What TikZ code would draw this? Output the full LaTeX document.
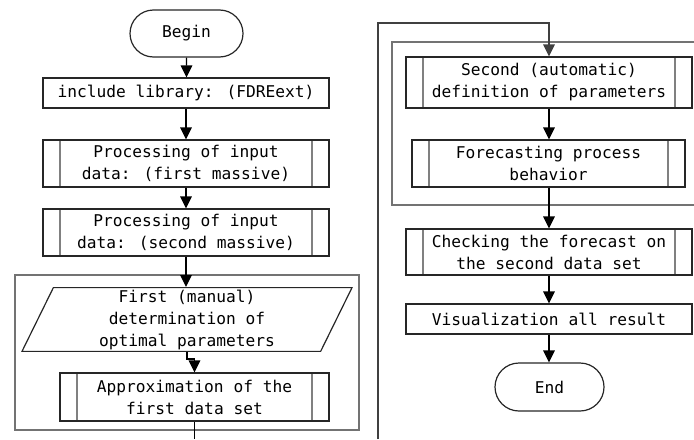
\documentclass[tikz,border=0pt]{standalone}
\usepackage{fontspec}
\usepackage{xcolor}
\usepackage{tikz}
\usetikzlibrary{shapes,shapes.geometric,shapes.misc,arrows.meta,calc}
\newfontfamily\flowfont{DejaVu Sans Mono}

\tikzset{
    box/.style={
        draw=black!85,
        line width=0.6pt,
        rectangle,
        align=center,
        inner sep=1pt,
        font=\flowfont\fontsize{8.1}{11}\selectfont
    },
    terminal/.style={box, rounded rectangle},
    subproc/.style={
        box,
        path picture={
            \draw[black!50, line width=0.6pt]
                ([xshift=8.5pt]path picture bounding box.north west) --
                ([xshift=8.5pt]path picture bounding box.south west)
                ([xshift=-8.5pt]path picture bounding box.north east) --
                ([xshift=-8.5pt]path picture bounding box.south east);
        }
    },
    manual/.style={
        box,
        trapezium,
        trapezium left angle=63.8,
        trapezium right angle=116.2,
        trapezium stretches body
    },
    loopbox/.style={draw=black!55, line width=0.7pt},
    flow/.style={draw=black, line width=0.6pt, -{Triangle[width=5.8pt,length=6pt]}}
}

\begin{document}
\begin{tikzpicture}[x=0.5pt,y=-0.5pt]
    \useasboundingbox (0,0) rectangle (694,439);
    \clip (0,0) rectangle (694,439);

    % left column
    \node[terminal, minimum width=58.5pt, minimum height=23.5pt] (begin) at (186.5,33.5) {Begin};
    \node[box, minimum width=143pt, minimum height=15pt] (lib) at (186,93) {include library: (FDREext)};
    \node[subproc, minimum width=143pt, minimum height=23.5pt] (procA) at (186,163.5)
        {Processing of input\\data: (first massive)};
    \node[subproc, minimum width=143pt, minimum height=23.5pt] (procB) at (186,232.5)
        {Processing of input\\data: (second massive)};

    % first loop
    \draw[loopbox] (15,275) rectangle (359,430);
    \node[manual, minimum width=165pt, minimum height=31.5pt] (firstpar) at (187,319.5)
        {First (manual)\\determination of\\optimal parameters};
    \node[subproc, minimum width=134.5pt, minimum height=24pt] (approx) at (194.5,397)
        {Approximation of the\\first data set};

    % right column
    \draw[loopbox] (392,42) rectangle (720,205);
    \node[subproc, minimum width=143pt, minimum height=25.5pt] (secdef) at (549,82.5)
        {Second (automatic)\\definition of parameters};
    \node[subproc, minimum width=136.5pt, minimum height=23.5pt] (forecast) at (548.5,163.5)
        {Forecasting process\\behavior};
    \node[subproc, minimum width=143pt, minimum height=23pt] (check) at (549,252)
        {Checking the forecast on\\the second data set};
    \node[box, minimum width=143pt, minimum height=15pt] (visual) at (549,319)
        {Visualization all result};
    \node[terminal, minimum width=56.5pt, minimum height=24pt] (endn) at (549.5,387) {End};

    % connectors
    \draw[flow] (begin) -- (begin.south |- lib.north);
    \draw[flow] (lib) -- (lib.south |- procA.north);
    \draw[flow] (procA) -- (procA.south |- procB.north);
    \draw[flow] (procB) -- (procB.south |- firstpar.north);
    \draw[flow] (firstpar.south) -- ++(0,7) -| (approx.north);

    \coordinate (loopout) at (approx.south |- 0,439);
    \draw[line width=0.6pt] (approx.south) -- (loopout);
    \coordinate (loopin) at (378,439);
    \draw[flow, draw=black!75] (loopin) |- (secdef.north |- 0,23) -- (secdef.north);

    \draw[flow] (secdef) -- (secdef.south |- forecast.north);
    \draw[flow] (forecast.south -| secdef.south) -- (secdef.south |- check.north);
    \draw[flow] (check) -- (check.south |- visual.north);
    \draw[flow] (visual) -- (visual.south |- endn.north);
\end{tikzpicture}
\end{document}
